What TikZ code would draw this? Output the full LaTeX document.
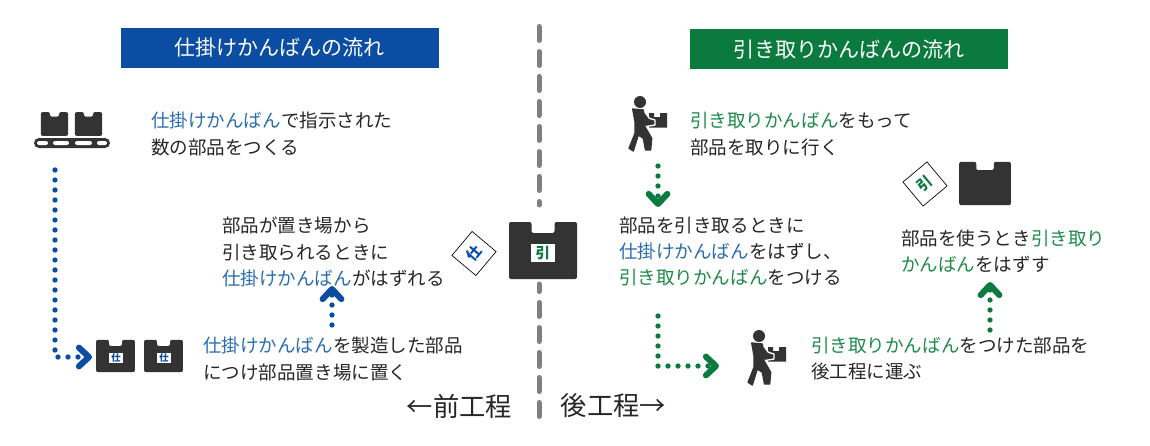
\documentclass[tikz,border=0pt]{standalone}
\usepackage{fontspec}
\setmainfont{Noto Sans CJK JP}
\usepackage{tikz}
\usetikzlibrary{arrows.meta}

\definecolor{aoiro}{HTML}{0B4DA2}
\definecolor{midori}{HTML}{0B7A3E}
\definecolor{aotxt}{HTML}{2C6CB0}
\definecolor{midotxt}{HTML}{1F8A4C}
\definecolor{sumi}{HTML}{333333}
\newcommand{\ao}[1]{\textcolor{aotxt}{#1}}
\newcommand{\mido}[1]{\textcolor{midotxt}{#1}}

\tikzset{
  setsumei/.style={anchor=west,inner sep=0pt,align=left,text=black!85,
    font=\fontsize{13.9}{19.7}\selectfont},
  midashi/.style={minimum width=238.5pt,minimum height=30pt,inner sep=0pt,text=white,
    font=\fontsize{15.8}{19}\selectfont},
  kotei/.style={inner sep=0pt,text=black!85,font=\fontsize{19.7}{24}\selectfont},
  kugiri/.style={line width=3.75pt,color=gray,line cap=round,dash pattern=on 10.5pt off 8.25pt},
  tenten/.style={line width=4pt,line cap=round,dash pattern=on 0pt off 7.5pt},
  yaji/.style={-{Straight Barb[length=7.5pt,width=14pt,line width=4.6pt,round]}},
  fuda/.style={draw=black,fill=white,line width=0.5pt,minimum size=23.5pt,inner sep=0pt,font=\fontsize{11}{11}\bfseries},
  tag/.style={fill=white,inner sep=0pt,font=\bfseries},
  hako/.pic={
    \fill[sumi,rounded corners=1.5pt] (-34,-28.5) -- (-11.5,-28.5) -- (-11.5,-17.5) -- (11.5,-17.5)
      -- (11.5,-28.5) -- (34,-28.5) -- (34,28.5) -- (-34,28.5) -- cycle;
  },
  hakobu/.pic={
    % nimotsu
    \fill[sumi] (9,11) -- (14,11) -- (14,15) -- (20,15) -- (20,11) -- (27,11) -- (27,25.5) -- (9,25.5) -- cycle;
    % ude
    \filldraw[sumi,draw=white,line width=1pt,line join=round] (-7.3,7) -- (3.3,8) -- (9.3,16.3) -- (15,18)
      -- (15,23) -- (5,24.7) -- (3,18) -- (-5,19.7) -- cycle;
    % karada
    \filldraw[sumi,line width=1pt,line join=round] (-7.3,7) -- (3.3,8) -- (5,24.7) -- (11.7,36.3) -- (10.7,48) -- (5.5,48)
      -- (3.3,36.3) -- (-1.7,33) -- (-6.7,49) -- (-11,46.3) -- (-5,31.3) -- (-5,19.7) -- cycle;
    \fill[sumi] (0,0) circle (6);
  },
}

\begin{document}
\begin{tikzpicture}[x=0.75pt,y=-0.75pt]
  \useasboundingbox (0,0) rectangle (1150,446);
  % kugiri
  \draw[kugiri] (539,26.5) -- (539,205);
  \draw[kugiri] (539,416.5) -- (539,284);
  % midashi
  \node[midashi,fill=aoiro] (titleL) at (279.5,48) {仕掛けかんばんの流れ};
  \node[midashi,fill=midori] (titleR) at (849,49) {引き取りかんばんの流れ};
  % setsumei
  \node[setsumei] (txtA) at (151,134) {\ao{仕掛けかんばん}で指示された\\数の部品をつくる};
  \node[setsumei] (txtB) at (222,252) {部品が置き場から\\引き取られるときに\\\ao{仕掛けかんばん}がはずれる};
  \node[setsumei] (txtC) at (203,359) {\ao{仕掛けかんばん}を製造した部品\\につけ部品置き場に置く};
  \node[setsumei] (txtD) at (690,134) {\mido{引き取りかんばん}をもって\\部品を取りに行く};
  \node[setsumei] (txtE) at (619,251.5) {部品を引き取るときに\\\ao{仕掛けかんばん}をはずし、\\\mido{引き取りかんばん}をつける};
  \node[setsumei] (txtF) at (901,251.5) {部品を使うとき\mido{引き取り}\\\mido{かんばん}をはずす};
  \node[setsumei] (txtG) at (811,358.5) {\mido{引き取りかんばん}をつけた部品を\\後工程に運ぶ};
  \node[kotei] (maeK) at (459.5,406) {←前工程};
  \node[kotei] (atoK) at (613.5,406) {後工程→};
  % conveyor
  \pic[xscale=0.4,yscale=0.42] at (54.5,124) {hako};
  \pic[xscale=0.4,yscale=0.42] at (88.5,124) {hako};
  \fill[sumi,rounded corners=5*0.75pt] (34,138) rectangle (110,148);
  \foreach \xa/\xb in {37/48,53/69,75/92,97/107}
    \fill[white,rounded corners=1.5pt] (\xa,141) rectangle (\xb,145);
  % hako
  \pic[scale=0.57] at (115.5,356) {hako};
  \pic[scale=0.57] at (163.5,356) {hako};
  \pic at (543,250.5) {hako};
  \pic[scale=0.76] at (985,183.5) {hako};
  \node[tag,text=aoiro,minimum width=10.5pt,minimum height=7.5pt,font=\fontsize{7}{7}\bfseries] (tagA) at (116,358) {仕};
  \node[tag,text=aoiro,minimum width=10.5pt,minimum height=7.5pt,font=\fontsize{7}{7}\bfseries] (tagB) at (164,358) {仕};
  \node[tag,text=midori,minimum width=18pt,minimum height=13.5pt,font=\fontsize{11}{11}\bfseries] (tagC) at (543,253) {引};
  % fuda
  \node[fuda,text=aoiro,rotate=50] (fudaA) at (474,253.5) {仕};
  \node[fuda,text=midori,rotate=40] (fudaB) at (925,184) {引};
  % hito
  \pic at (640,102) {hakobu};
  \pic at (759,336) {hakobu};
  % yajirushi
  \coordinate (a1) at (55,170);
  \coordinate (a2) at (55,357);
  \coordinate (a3) at (92,357);
  \coordinate (b1) at (332,325);
  \coordinate (b2) at (332,286);
  \coordinate (c1) at (658,166);
  \coordinate (c2) at (658,207);
  \coordinate (d1) at (658,316);
  \coordinate (d2) at (658,366);
  \coordinate (d3) at (719,366);
  \coordinate (e1) at (990,330);
  \coordinate (e2) at (990,282);
  \draw[tenten,aoiro,yaji] (a1) -- (a2) -- (a3);
  \draw[tenten,aoiro,yaji] (b1) -- (b2);
  \draw[tenten,midori,yaji] (c1) -- (c2);
  \draw[tenten,midori,yaji] (d1) -- (d2) -- (d3);
  \draw[tenten,midori,yaji] (e1) -- (e2);
\end{tikzpicture}
\end{document}
